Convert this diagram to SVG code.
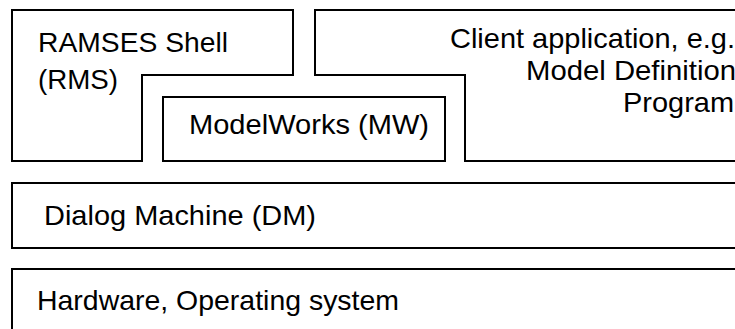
<svg xmlns="http://www.w3.org/2000/svg" width="735" height="329" viewBox="0 0 735 329">
<style>
.box{fill:#fff;stroke:#000;stroke-width:2}
.t{font-family:"Liberation Sans",Arial,sans-serif;font-size:28px;fill:#000}
</style>
<rect width="735" height="329" fill="#fff"/>
<g id="rms">
<path class="box" d="M12,10 H293 V75 H142 V161 H12 Z"/>
<text class="t" x="38" y="52" textLength="190" lengthAdjust="spacingAndGlyphs">RAMSES Shell</text>
<text class="t" x="38" y="89" textLength="80" lengthAdjust="spacingAndGlyphs">(RMS)</text>
</g>
<g id="client">
<path class="box" d="M315,10 H745 V161 H465 V75 H315 Z"/>
<text class="t" x="450" y="48" textLength="285" lengthAdjust="spacingAndGlyphs">Client application, e.g.</text>
<text class="t" x="526" y="80" textLength="210" lengthAdjust="spacingAndGlyphs">Model Definition</text>
<text class="t" x="623" y="112" textLength="111" lengthAdjust="spacingAndGlyphs">Program</text>
</g>
<g id="mw">
<rect class="box" x="163" y="97" width="282" height="64"/>
<text class="t" x="189" y="134" textLength="240" lengthAdjust="spacingAndGlyphs">ModelWorks (MW)</text>
</g>
<g id="dm">
<rect class="box" x="12" y="183" width="740" height="65"/>
<text class="t" x="44" y="225" textLength="272" lengthAdjust="spacingAndGlyphs">Dialog Machine (DM)</text>
</g>
<g id="hw">
<rect class="box" x="12" y="269" width="740" height="80"/>
<text class="t" x="37" y="310" textLength="362" lengthAdjust="spacingAndGlyphs">Hardware, Operating system</text>
</g>
<g id="connectors"/>
</svg>
